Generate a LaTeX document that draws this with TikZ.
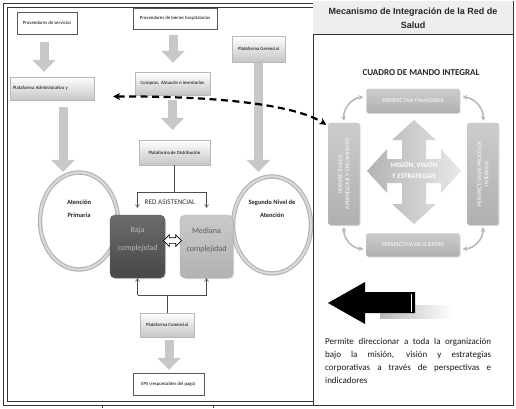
\documentclass[tikz,border=0pt]{standalone}
\usepackage{fontspec}
\setmainfont{Carlito}
\newfontfamily\arialfont{Liberation Sans}
\definecolor{cabecera}{RGB}{238,238,238}
\definecolor{flecha}{RGB}{200,200,200}
\usetikzlibrary{arrows.meta,shapes.geometric,shapes.arrows,shadows}
\tikzset{
  wbox/.style={draw=black!65,fill=white,inner sep=1pt,font=\fontsize{4.8}{5.5}\selectfont},
  gbox/.style={draw=gray!55,top color=white,bottom color=gray!45,inner sep=1pt,font=\fontsize{4.8}{5.5}\selectfont,
    drop shadow={opacity=.3,shadow xshift=1pt,shadow yshift=-1pt}},
  blockarr/.style={line width=9pt,draw=flecha,-{Triangle[width=23pt,length=12pt]}},
  thinarr/.style={draw=black!70,line width=0.5pt,-{Straight Barb[length=3pt,width=4pt]}},
  ring/.style={ellipse,draw=gray!60,double=gray!30,double distance=2.2pt,line width=1.1pt,fill=white,
    minimum width=78pt,minimum height=97pt},
  ringtext/.style={align=center,font=\bfseries\fontsize{6.5}{13}\selectfont,text=black!85},
  nivel/.style={rounded corners=5pt,minimum width=55pt,minimum height=63pt,
    drop shadow={opacity=.3,shadow xshift=1pt,shadow yshift=-1pt}},
  niveltext/.style={align=center,font=\fontsize{8}{18}\selectfont},
  bsc/.style={rounded corners=2pt,top color=gray!40,bottom color=gray!62,draw=gray!50,text=white,
    font=\fontsize{5.8}{7}\selectfont,inner sep=1pt,
    drop shadow={opacity=.25,shadow xshift=1pt,shadow yshift=-1pt}},
  curvarr/.style={draw=gray!55,line width=1.6pt,{Stealth[length=4.5pt,width=5pt]}-{Stealth[length=4.5pt,width=5pt]}},
  dasharr/.style={draw=black,line width=2.2pt,dash pattern=on 7pt off 4.5pt,
    {Stealth[length=7pt,width=7pt]}-{Stealth[length=7pt,width=7pt]}}
}
\begin{document}
\begin{tikzpicture}[x=1pt,y=-1pt]
  \useasboundingbox (0,0) rectangle (516,408);
  \draw[black!80,line width=0.8pt] (3,3) rectangle (313,405);
  \draw[black!80,line width=0.8pt] (7,7) rectangle (313,401);
  \draw[black!80,line width=0.8pt] (102,405) -- (102,408);
  \draw[black!80,line width=0.8pt] (213,405) -- (213,408);
  \draw[black!80,line width=0.8pt,fill=white] (313,1) rectangle (513,405);
  \fill[cabecera] (313.4,1.4) rectangle (512.6,34);
  \draw[black!80,line width=0.8pt] (313,34) -- (513,34);

  \node[wbox,minimum width=60pt,minimum height=22pt] (serv) at (47,23) {Proveedores de servicios};
  \node[wbox,minimum width=84pt,minimum height=21pt] (hosp) at (175,18.5) {Proveedores de bienes hospitalarios};
  \node[gbox,minimum width=84pt,minimum height=23pt,text width=78pt,align=left] (padm) at (52,88.5) {Plataforma Administrativa y};
  \node[gbox,minimum width=75pt,minimum height=23pt] (comp) at (172.5,83.5) {Compras, \ Almacén e inventarios};
  \node[gbox,minimum width=53pt,minimum height=26pt] (ger) at (258.5,49) {Plataforma Gerencial};
  \node[gbox,minimum width=71pt,minimum height=25pt] (dist) at (174.5,152.5) {Plataforma de Distribución};
  \node[gbox,minimum width=54pt,minimum height=24pt] (com) at (167,325) {Plataforma Comercial};
  \node[wbox,minimum width=71pt,minimum height=22pt] (eps) at (168.5,384) {EPS (responsables del pago)};

  \node[ring,label={[ringtext,yshift=12.5pt]center:Atención\\Primaria}] (prim) at (79,221) {};
  \node[ring,label={[ringtext,yshift=16.5pt]center:Segundo Nivel de\\Atención}] (seg) at (272,225) {};

  \node[nivel,top color=black!58,bottom color=black!72,draw=black!60,
    label={[niveltext,text=gray!55,yshift=7pt]center:Baja\\complejidad}] (baja) at (137.5,246.5) {};
  \node[nivel,minimum width=53pt,top color=gray!42,bottom color=gray!60,draw=gray!60,
    label={[niveltext,text=black!65,yshift=6pt]center:Mediana\\complejidad}] (med) at (206.5,246.5) {};
  \node[double arrow,draw=black,fill=white,line width=0.7pt,inner sep=2.5pt,
    double arrow head extend=3pt,minimum height=18pt] (enlace) at (172.5,240.5) {};

  \node[font=\fontsize{7.2}{8}\selectfont,text=black!80] (red) at (170,202) {RED ASISTENCIAL};

  \draw[blockarr,shorten <=8pt,shorten >=5pt] ([xshift=-3pt]serv.south) -- ([xshift=-3pt]serv.south |- padm.north);
  \draw[blockarr,shorten <=6pt,shorten >=9pt] ([xshift=-2pt]hosp.south) -- ([xshift=-2pt]hosp.south |- comp.north);
  \draw[blockarr,shorten <=5pt,shorten >=10pt] (comp.south) -- (comp.south |- dist.north);
  \draw[blockarr,shorten <=7pt,shorten >=0pt] ([xshift=11pt]padm.south) -- ([xshift=11pt]padm.south |- prim.north);
  \draw[blockarr,shorten <=1pt,shorten >=4pt] (ger.south) -- (ger.south |- seg.north);
  \draw[blockarr,shorten <=3pt,shorten >=3pt] ([xshift=2pt]com.south) -- ([xshift=2pt]com.south |- eps.north);

  \coordinate (rl) at (137.5,192);
  \coordinate (rr) at (206.5,192);
  \draw[draw=black!70,line width=0.5pt] (dist.south) -- (dist.south |- rl);
  \draw[draw=black!70,line width=0.5pt] (rl) -- (rr);
  \draw[thinarr,shorten >=7pt] (rl) -- (rl |- baja.north);
  \draw[thinarr,shorten >=7pt] (rr) -- (rr |- med.north);

  \coordinate (bl) at (137.5,295);
  \coordinate (br) at (206.5,295);
  \draw[draw=black!70,line width=0.5pt] (com.north) -- (com.north |- bl);
  \draw[draw=black!70,line width=0.5pt] (bl) -- (br);
  \draw[thinarr] (bl) -- (bl |- baja.south);
  \draw[thinarr] (br) -- (br |- med.south);

  \node[align=center,font=\arialfont\bfseries\fontsize{9}{14}\selectfont,text=black!85] (titulo) at (413,18.5)
    {Mecanismo de Integración de la Red de\\Salud};
  \node[font=\bfseries\fontsize{9}{10}\selectfont,text=black!85] (cmi) at (421,73) {CUADRO DE MANDO INTEGRAL};

  \shade[left color=gray!60,right color=gray!18]
    (414,120) -- (436,140) -- (426,140) -- (426,159) -- (441,159) -- (441,149) -- (461,171)
    -- (441,193) -- (441,183) -- (426,183) -- (426,204) -- (436,204) -- (414,224)
    -- (392,204) -- (402,204) -- (402,183) -- (387,183) -- (387,193) -- (367,171)
    -- (387,149) -- (387,159) -- (402,159) -- (402,140) -- (392,140) -- cycle;
  \node[align=center,text=white,font=\bfseries\fontsize{7}{11}\selectfont] (mision) at (414,170) {MISIÓN, VISIÓN\\Y ESTRATEGIAS};

  \node[bsc,minimum width=93pt,minimum height=24pt] (fin) at (413,101) {PERSPECTIVA FINANCIERA};
  \node[bsc,rotate=90,minimum width=102pt,minimum height=31pt,align=center] (apr) at (344,174)
    {PERSPECTIVA DE\\APRENDIZAJE Y CRECIMIENTO};
  \node[bsc,rotate=90,minimum width=102pt,minimum height=31pt,align=center] (pro) at (483,174)
    {PERSPECTIVA DE PROCESOS\\INTERNOS};
  \node[bsc,minimum width=93pt,minimum height=23pt] (cli) at (413,245) {PERSPECTIVA DE CLIENTES};

  \draw[curvarr] ([yshift=2pt]apr.east) to[bend left=45] ([xshift=-3pt,yshift=4pt]fin.west);
  \draw[curvarr] ([xshift=3pt,yshift=4pt]fin.east) to[bend left=45] ([yshift=2pt]pro.east);
  \draw[curvarr] ([yshift=-2pt]pro.west) to[bend left=45] ([xshift=3pt,yshift=-4pt]cli.east);
  \draw[curvarr] ([xshift=-3pt,yshift=-4pt]cli.west) to[bend left=45] ([yshift=-2pt]apr.west);

  \draw[dasharr] ([xshift=19pt,yshift=-8pt]padm.east) .. controls (220,96) and (295,105)
    .. ([xshift=-2pt,yshift=-2pt]apr.north east);

  \shade[left color=gray!55,right color=white] (380,305) rectangle (452,318);
  \fill[black] (328,303) -- (365,282) -- (365,292) -- (415,292) -- (415,313) -- (365,313) -- (365,324) -- cycle;
  \draw[white,line width=0.8pt] (411.5,293.5) -- (411.5,311.5);

  \node[anchor=north west,inner sep=0pt,text width=166pt,align=justify,text=black!90,
    font=\fontsize{9}{13}\selectfont] (texto) at (325,338.5)
    {\hyphenpenalty=10000 Permite direccionar a toda la organización\linebreak
     bajo la misión, visión y estrategias\linebreak
     corporativas a través de perspectivas e\linebreak
     indicadores};
\end{tikzpicture}
\end{document}
